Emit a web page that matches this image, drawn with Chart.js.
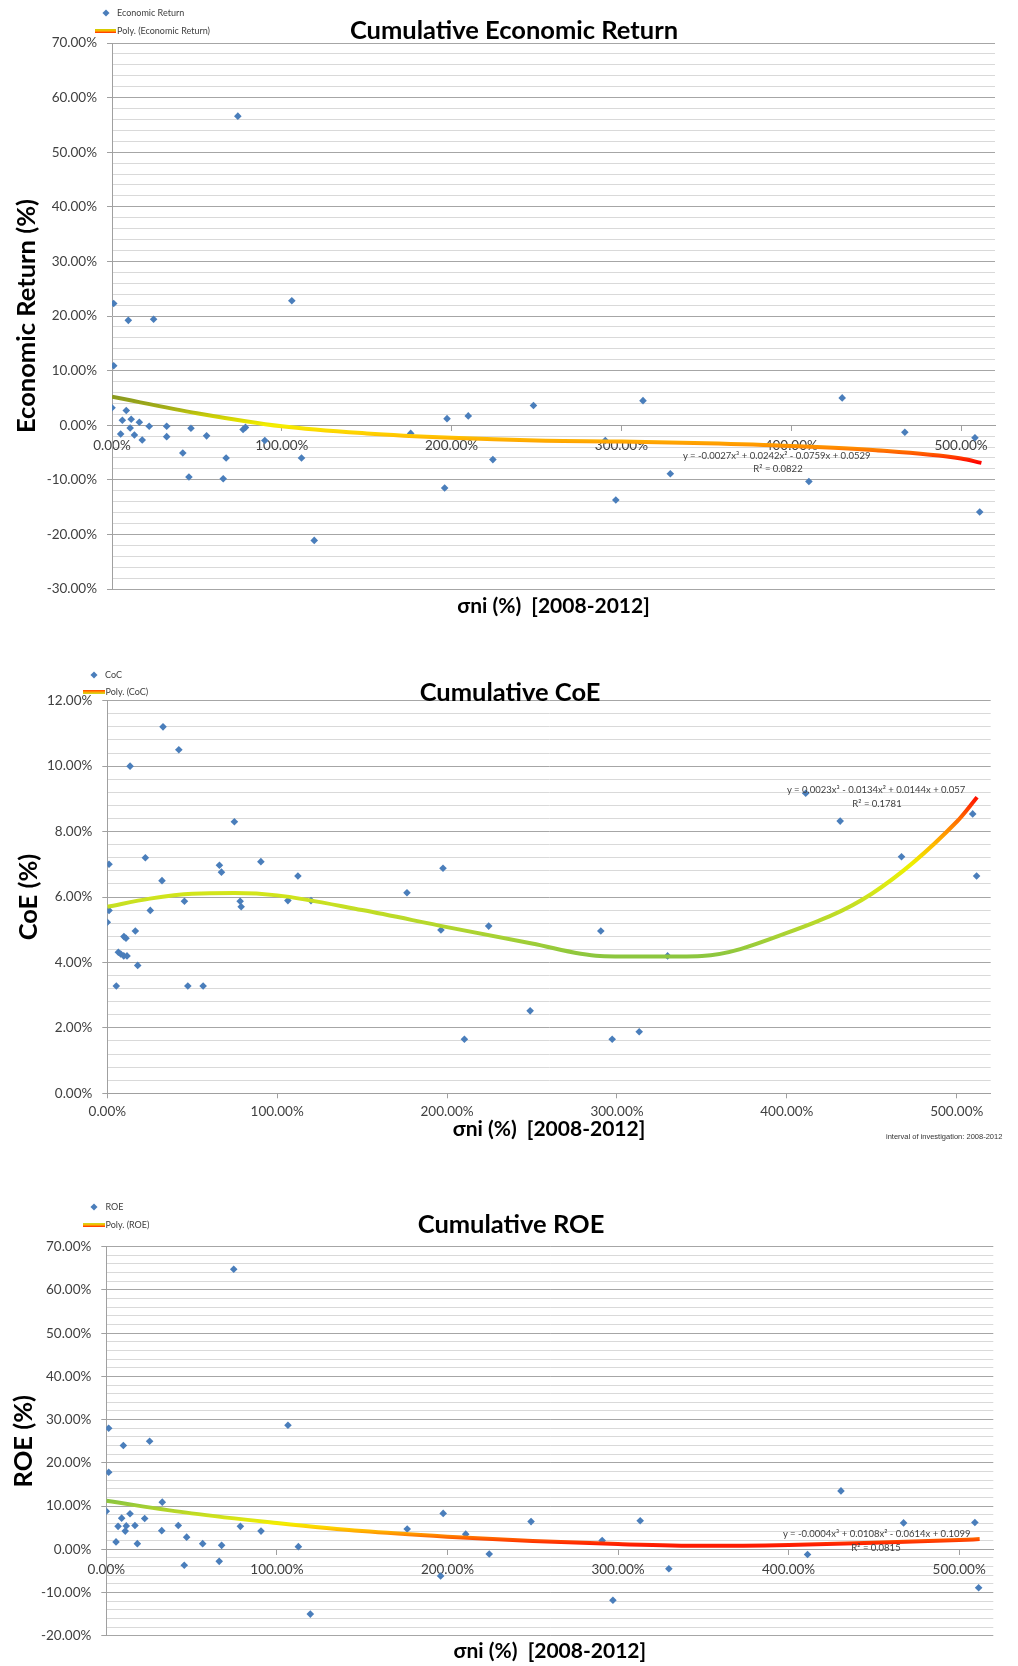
<!DOCTYPE html>
<html>
<head>
<meta charset="utf-8">
<title>Cumulative Economic Return, CoE and ROE</title>
<script src="https://cdn.jsdelivr.net/npm/chart.js@4.4.1/dist/chart.umd.min.js"></script>
<style>
  html, body { margin: 0; padding: 0; background: #fff; }
  body { position: relative; width: 1018px; height: 1666px; overflow: hidden; font-family: Lato, "Open Sans", sans-serif; }
  canvas { position: absolute; left: 0; }
  .txt { position: absolute; white-space: nowrap; color: #404040; line-height: 1.2; }
  .title { font-weight: bold; font-size: 25.5px; color: #000; }
  .legend { font-size: 9px; }
  .eq { font-size: 9.5px; }
  .note { font-family: "Liberation Sans", Arial, sans-serif; font-size: 7.5px; color: #333; }
  .dot { position: absolute; width: 5px; height: 5px; background: #4a7ebb; transform: translate(-50%, -50%) rotate(45deg); }
  .swatch { position: absolute; height: 4px; transform: translateY(-50%); }
</style>
</head>
<body>
<canvas id="chartER" width="1018" height="625" style="top:0"></canvas>
<canvas id="chartCoE" width="1018" height="520" style="top:625px"></canvas>
<canvas id="chartROE" width="1018" height="521" style="top:1145px"></canvas>
<script>
// sigma_ni (%) on x, values in %
const erX = [1.0, 9.6, 24.5, 1.0, 0.0, 6.1, 8.4, 11.3, 10.7, 5.1, 13.2, 16.1, 17.8, 21.9, 32.2, 32.2, 41.7, 46.5, 45.3, 55.7, 65.5, 67.2, 74.1, 77.2, 78.6, 90.0, 105.9, 111.6, 119.1, 175.9, 195.9, 197.3, 209.8, 224.3, 248.2, 290.5, 296.7, 312.7, 328.8, 410.4, 430.0, 466.9, 508.2, 511.0];
const erY = [22.3, 19.2, 19.4, 10.9, 3.2, 0.9, 2.7, 1.1, -0.5, -1.6, -1.8, 0.55, -2.7, -0.2, -0.2, -2.1, -5.1, -0.55, -9.5, -1.95, -9.8, -6.0, 56.6, -0.8, -0.4, -2.8, 22.8, -6.0, -21.1, -1.5, -11.5, 1.2, 1.7, -6.3, 3.6, -2.8, -13.7, 4.5, -8.9, -10.3, 5.0, -1.3, -2.3, -15.9];
const erTrendX = [0, 50, 100, 150, 200, 250, 300, 350, 400, 450, 500, 512];
const erTrendY = [5.2, 2.2, -0.2, -1.5, -2.3, -2.8, -3.0, -3.3, -3.8, -4.6, -6.1, -6.9];

const coeX = [0.0, 1.0, 1.0, 5.3, 6.5, 7.9, 9.7, 9.8, 11.0, 11.6, 13.4, 16.5, 17.9, 22.4, 25.3, 32.2, 32.8, 42.1, 45.4, 47.4, 56.4, 66.0, 67.2, 74.8, 78.2, 78.8, 90.4, 106.3, 112.2, 119.9, 176.4, 196.4, 197.6, 210.2, 224.5, 248.9, 290.5, 297.2, 313.1, 329.8, 411.1, 431.4, 467.5, 509.4, 511.7];
const coeY = [5.23, 7.0, 5.59, 3.28, 4.31, 4.26, 4.2, 4.79, 4.74, 4.2, 10.0, 4.96, 3.91, 7.2, 5.59, 6.5, 11.2, 10.5, 5.87, 3.28, 3.28, 6.97, 6.76, 8.3, 5.87, 5.7, 7.08, 5.89, 6.64, 5.89, 6.13, 4.99, 6.88, 1.65, 5.11, 2.52, 4.96, 1.65, 1.88, 4.2, 9.17, 8.32, 7.23, 8.54, 6.64];
const coeTrendX = [0, 25, 50, 75, 100, 150, 200, 250, 290, 320, 350, 400, 450, 500, 512];
const coeTrendY = [5.70, 5.95, 6.10, 6.12, 6.05, 5.60, 5.08, 4.58, 4.20, 4.18, 4.20, 4.90, 6.10, 8.30, 9.05];

const roeX = [0.0, 1.4, 1.4, 5.7, 6.9, 9.0, 10.0, 11.1, 11.7, 13.9, 16.8, 18.2, 22.5, 25.4, 32.5, 32.8, 42.2, 45.7, 47.1, 56.5, 66.2, 67.6, 74.7, 78.6, 90.7, 106.5, 112.6, 119.6, 176.4, 196.0, 197.5, 210.7, 224.5, 249.0, 290.7, 297.0, 313.0, 329.8, 411.1, 430.7, 467.4, 509.2, 511.4];
const roeY = [8.8, 28.0, 17.8, 1.7, 5.3, 7.2, 24.0, 4.2, 5.4, 8.2, 5.5, 1.3, 7.1, 25.0, 4.3, 10.9, 5.5, -3.7, 2.8, 1.3, -2.8, 0.9, 64.8, 5.3, 4.2, 28.7, 0.6, -15.0, 4.7, -6.2, 8.3, 3.5, -1.1, 6.4, 2.0, -11.8, 6.6, -4.5, -1.2, 13.5, 6.1, 6.2, -8.9];
const roeTrendX = [0, 50, 100, 150, 200, 250, 300, 350, 400, 450, 500, 512];
const roeTrendY = [11.2, 8.3, 6.1, 4.2, 2.9, 1.9, 1.2, 0.8, 1.0, 1.5, 2.15, 2.35];

const xTickValues = [0, 100, 200, 300, 400, 500];

Chart.defaults.font.family = 'Lato';
Chart.defaults.color = '#404040';

const pct = v => v.toFixed(2) + '%';

// colour of the trend line follows its height, like the gradient line in the original
function trendGradient(stopVals, stopCols) {
    return function(context) {
        const chart = context.chart;
        const yScale = chart.scales.y;
        if (!chart.chartArea || !yScale) return stopCols[0];
        const y0 = yScale.getPixelForValue(stopVals[0]);
        const y1 = yScale.getPixelForValue(stopVals[stopVals.length - 1]);
        const g = chart.ctx.createLinearGradient(0, y0, 0, y1);
        stopVals.forEach((v, i) => {
            g.addColorStop((yScale.getPixelForValue(v) - y0) / (y1 - y0), stopCols[i]);
        });
        return g;
    };
}

function makeChart(canvasId, s) {
    const isMajor = v => Math.abs(v / s.yMajor - Math.round(v / s.yMajor)) < 1e-6;
    const count = Math.round((s.yMax - s.yMin) / s.yMinor);
    const yTicks = [];
    for (let i = 0; i <= count; i++) yTicks.push(+(s.yMin + i * s.yMinor).toFixed(4));

    const xTitle = {
        display: true, text: 'σni (%)  [2008-2012]', color: '#000',
        font: { size: 21, weight: 'bold' }, padding: { top: 0, bottom: s.xTitlePad }
    };

    const scales = {
        x: {
            type: 'linear',
            position: s.xAtZero ? { y: 0 } : 'bottom',
            min: 0, max: 520,
            afterBuildTicks: sc => { sc.ticks = xTickValues.map(v => ({ value: v })); },
            ticks: { callback: v => pct(v), autoSkip: false, maxRotation: 0, padding: s.xTickPad, font: { size: 13.5 } },
            grid: { drawOnChartArea: false, drawTicks: true, tickLength: 5, tickColor: '#a0a0a0' },
            border: { display: true, color: '#a0a0a0' },
            title: s.xAtZero ? { display: false } : xTitle
        },
        y: {
            type: 'linear', position: 'left', min: s.yMin, max: s.yMax,
            afterBuildTicks: sc => { sc.ticks = yTicks.map(v => ({ value: v })); },
            afterFit: sc => { sc.width = s.yWidth; },
            ticks: { autoSkip: false, padding: 10, callback: v => isMajor(v) ? pct(v) : '', font: { size: 13.5 } },
            grid: {
                color: c => isMajor(c.tick.value) ? '#a6a6a6' : '#d9d9d9',
                lineWidth: 1,
                tickLength: 5,
                tickColor: c => isMajor(c.tick.value) ? '#a0a0a0' : 'rgba(0,0,0,0)'
            },
            border: { display: true, color: '#a0a0a0' },
            title: {
                display: true, text: s.yTitle, color: '#000',
                font: { size: 25.5, weight: 'bold' }, padding: { top: s.yTitlePad, bottom: 0 }
            }
        }
    };
    if (s.xAtZero) {
        scales.x2 = {
            type: 'linear', position: 'bottom', min: 0, max: 520,
            ticks: { display: false }, grid: { display: false }, border: { display: false },
            title: xTitle,
            afterFit: sc => { sc.height = s.xHeight; }
        };
    } else {
        scales.x.afterFit = sc => { sc.height = s.xHeight; };
    }

    return new Chart(document.getElementById(canvasId), {
        type: 'scatter',
        data: {
            datasets: [
                {
                    label: 'Poly. (' + s.label + ')',
                    data: s.trendX.map((x, i) => ({ x: x, y: s.trendY[i] })),
                    showLine: true,
                    pointRadius: 0,
                    borderWidth: 4,
                    borderColor: trendGradient(s.stopVals, s.stopCols),
                    cubicInterpolationMode: 'monotone',
                    order: 0,
                    xAxisID: 'x', yAxisID: 'y'
                },
                {
                    label: s.label,
                    data: s.x.map((x, i) => ({ x: x, y: s.y[i] })),
                    pointStyle: 'rectRot',
                    pointRadius: 3.8,
                    backgroundColor: '#4a7ebb',
                    borderColor: '#4a7ebb',
                    borderWidth: 0,
                    order: 1,
                    xAxisID: 'x', yAxisID: 'y'
                }
            ]
        },
        options: {
            responsive: false,
            animation: false,
            devicePixelRatio: 1,
            events: [],
            layout: { padding: s.pad },
            plugins: { legend: { display: false }, tooltip: { enabled: false }, title: { display: false } },
            scales: scales
        }
    });
}

makeChart('chartER', {
    label: 'Economic Return', x: erX, y: erY, trendX: erTrendX, trendY: erTrendY,
    stopVals: [5.2, 3.0, 1.0, 0.0, -1.5, -2.5, -3.3, -4.2, -5.5, -6.9],
    stopCols: ['#8a9a1e', '#a6b016', '#dcdc00', '#f5ef00', '#ffd000', '#ffb400', '#ffa000', '#ff8800', '#ff4c00', '#ff0000'],
    yMin: -30, yMax: 70, yMinor: 2, yMajor: 10, yTitle: 'Economic Return (%)',
    xAtZero: true, xTickPad: 7.5, xTitlePad: 6.4, xHeight: 36, yWidth: 112, yTitlePad: 11.7,
    pad: { top: 43, right: 23, left: 0, bottom: 0 }
});

makeChart('chartCoE', {
    label: 'CoC', x: coeX, y: coeY, trendX: coeTrendX, trendY: coeTrendY,
    stopVals: [4.2, 5.0, 5.8, 6.4, 7.0, 7.7, 8.4, 9.05],
    stopCols: ['#8cc63f', '#b0d530', '#c8e021', '#dcea14', '#eef000', '#ffb000', '#ff6a00', '#ff1000'],
    yMin: 0, yMax: 12, yMinor: 0.4, yMajor: 2, yTitle: 'CoE (%)',
    xAtZero: false, xTickPad: 5.6, xTitlePad: 2.9, xHeight: 51.7, yWidth: 107.3, yTitlePad: 13.4,
    pad: { top: 75.7, right: 27.3, left: 0, bottom: 0 }
});

makeChart('chartROE', {
    label: 'ROE', x: roeX, y: roeY, trendX: roeTrendX, trendY: roeTrendY,
    stopVals: [11.2, 9.5, 7.5, 6.0, 5.0, 3.8, 2.8, 2.0, 1.0],
    stopCols: ['#8cc63f', '#a8d030', '#d0e21c', '#f2ee00', '#ffd000', '#ffa000', '#ff6e00', '#ff4400', '#ff1a00'],
    yMin: -20, yMax: 70, yMinor: 2, yMajor: 10, yTitle: 'ROE (%)',
    xAtZero: true, xTickPad: 7.5, xTitlePad: 2.4, xHeight: 30.3, yWidth: 106.3, yTitlePad: 8.1,
    pad: { top: 101.7, right: 24.7, left: 0, bottom: 0 }
});

// titles, legends, trend equations and the note
function addText(text, cls, x, y, centered) {
    const el = document.createElement('div');
    el.className = 'txt ' + cls;
    el.textContent = text;
    el.style.left = x + 'px';
    el.style.top = y + 'px';
    el.style.transform = centered ? 'translate(-50%, -50%)' : 'translateY(-50%)';
    document.body.appendChild(el);
}
function addDot(x, y) {
    const el = document.createElement('div');
    el.className = 'dot';
    el.style.left = x + 'px';
    el.style.top = y + 'px';
    document.body.appendChild(el);
}
function addSwatch(x, y, w, grad) {
    const el = document.createElement('div');
    el.className = 'swatch';
    el.style.left = x + 'px';
    el.style.top = y + 'px';
    el.style.width = w + 'px';
    el.style.background = grad;
    document.body.appendChild(el);
}

addText('Cumulative Economic Return', 'title', 514, 29, true);
addText('Cumulative CoE', 'title', 510, 691, true);
addText('Cumulative ROE', 'title', 511, 1223, true);

addDot(106, 13);
addText('Economic Return', 'legend', 117, 13);
addSwatch(95, 31, 21, 'linear-gradient(#c8d400, #ffb000, #ff2000)');
addText('Poly. (Economic Return)', 'legend', 117, 31);

addDot(94.3, 675);
addText('CoC', 'legend', 105, 675);
addSwatch(83, 692, 22, 'linear-gradient(#ff4000, #ffa000, #c8e021)');
addText('Poly. (CoC)', 'legend', 105.5, 692);

addDot(94, 1207);
addText('ROE', 'legend', 105.5, 1207);
addSwatch(83, 1225.3, 22, 'linear-gradient(#c8e021, #ffb000, #ff2000)');
addText('Poly. (ROE)', 'legend', 105.5, 1225);

addText('y = -0.0027x³ + 0.0242x² - 0.0759x + 0.0529', 'eq', 683, 456);
addText('R² = 0.0822', 'eq', 778, 469, true);
addText('y = 0.0023x³ - 0.0134x² + 0.0144x + 0.057', 'eq', 787, 789.5);
addText('R² = 0.1781', 'eq', 877, 803.5, true);
addText('y = -0.0004x³ + 0.0108x² - 0.0614x  + 0.1099', 'eq', 783, 1534);
addText('R² = 0.0815', 'eq', 876, 1547.5, true);

addText('interval of investigation: 2008-2012', 'note', 886, 1136);
</script>
</body>
</html>
